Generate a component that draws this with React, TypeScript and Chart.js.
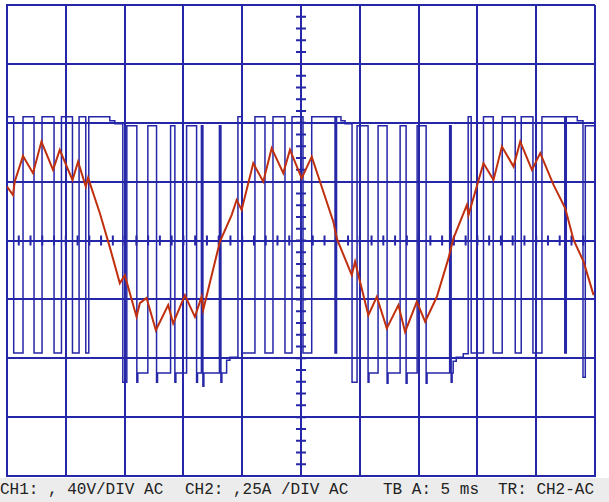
import React, { useEffect, useRef } from 'react';
import { Chart, registerables } from 'chart.js';

Chart.register(...registerables);

// CH1 voltage (V), stepped: each entry starts a level that holds until the next time
const voltTimes = [
  0.000, 0.570, 1.362, 2.298, 2.979, 4.001, 4.631, 5.567, 6.129, 6.699, 6.954, 8.742, 9.167,
  9.848, 10.189, 11.040, 11.120, 11.976, 12.717, 12.800, 13.909, 14.275, 14.360, 15.271,
  16.122, 16.200, 16.531, 16.658, 16.740, 18.063, 18.190, 18.270, 18.675, 18.956,
  19.637, 19.978, 21.084, 21.936, 22.617, 23.638, 24.234, 25.170, 25.911, 27.894, 28.022,
  28.400, 28.746, 29.341, 29.767, 30.703, 30.780, 31.554, 32.321, 32.400, 33.428, 33.938,
  34.020, 34.875, 35.641, 35.720, 37.641, 37.769, 37.850, 37.939, 38.200, 38.800,
  39.216, 39.471, 40.518, 41.344, 42.110, 43.217, 43.727, 44.723, 45.489, 47.430, 47.557,
  48.494, 48.979, 49.175, 50.000,
];
const voltValues = [
  84.0, -76.5, 84.0, -76.5, 84.0, -76.5, 84.0, -76.5, 84.0, -76.5, 84.0, 81.3, 79.3,
  -96.3, 77.9, -96.3, -90.1, 77.9, -96.3, -90.1, 77.9, -96.3, -90.1, 77.9,
  -96.3, -90.1, 77.9, -99.0, -90.1, 77.9, -96.3, -90.1, -81.3, -79.3,
  84.0, -76.5, 84.0, -76.5, 84.0, -76.5, 84.0, -76.5, 84.0, -76.5, 84.0,
  81.3, 79.3, -96.3, 77.9, -96.3, -90.1, 77.9, -97.0, -90.1, 77.9, -97.0,
  -90.1, 77.9, -97.0, -90.1, 77.9, -96.3, -90.1, -82.0, -79.3, -77.0,
  84.0, -76.5, 84.0, -76.5, 84.0, -76.5, 84.0, -76.5, 84.0, -76.5, 84.0,
  81.3, -92.9, 77.9, 77.9,
];

// CH2 current (A)
const currTimes = [
  0.000, 0.511, 0.655, 1.362, 2.213, 2.928, 3.916, 4.486, 5.567, 6.044, 6.699, 6.895,
  7.891, 8.742, 9.593, 10.019, 11.015, 11.296, 11.866, 12.657, 13.705, 14.130, 15.126,
  15.977, 16.548, 16.684, 18.105, 19.101, 19.527, 19.952, 20.940, 21.791, 22.506, 23.493,
  24.064, 25.060, 25.911, 27.749, 28.039, 29.316, 29.597, 30.729, 31.444, 32.295, 33.282,
  33.853, 34.849, 35.555, 36.551, 37.538, 37.964, 39.105, 39.241, 40.518, 41.369, 42.084,
  43.071, 43.641, 44.637, 45.343, 46.475, 47.471, 48.178, 49.029, 49.880,
];
const currValues = [
  0.229, 0.193, 0.250, 0.359, 0.286, 0.420, 0.300, 0.385, 0.257, 0.335, 0.229, 0.266,
  0.117, -0.028, -0.182, -0.147, -0.324, -0.266, -0.244, -0.381, -0.274, -0.352, -0.232,
  -0.324, -0.239, -0.295, -0.005, 0.108, 0.172, 0.130, 0.328, 0.250, 0.392, 0.286,
  0.385, 0.264, 0.356, 0.080, 0.009, -0.147, -0.090, -0.317, -0.239, -0.373, -0.274,
  -0.388, -0.260, -0.345, -0.239, -0.076, 0.009, 0.151, 0.108, 0.328, 0.257, 0.399,
  0.314, 0.420, 0.300, 0.371, 0.236, 0.137, 0.002, -0.090, -0.232,
];

const statusLabels = ['CH1: , 40V/DIV AC', 'CH2: ,25A /DIV AC', 'TB A: 5 ms', 'TR: CH2-AC'];
const statusOffsets = [0, 185, 383, 498];

const BLUE = '#2626a8';
const RED = '#c0300e';

const centerTicks = {
  id: 'centerTicks',
  beforeDatasetsDraw(chart: any) {
    const { ctx, scales } = chart;
    const xs = scales.x;
    const ys = scales.y;
    const cx = xs.getPixelForValue(25);
    const cy = ys.getPixelForValue(0);
    ctx.save();
    ctx.strokeStyle = BLUE;
    ctx.lineWidth = 2;
    ctx.beginPath();
    for (let t = 0; t <= 50; t += 1) {
      const px = xs.getPixelForValue(t);
      ctx.moveTo(px, cy - 5);
      ctx.lineTo(px, cy + 5);
    }
    for (let v = -160; v <= 160; v += 8) {
      const py = ys.getPixelForValue(v);
      ctx.moveTo(cx - 5, py);
      ctx.lineTo(cx + 5, py);
    }
    ctx.stroke();
    ctx.restore();
  },
};

export default function App() {
  const ref = useRef<HTMLCanvasElement | null>(null);

  useEffect(() => {
    if (!ref.current) return;
    const chart = new Chart(ref.current, {
      type: 'line',
      data: {
        datasets: [
          {
            label: 'CH2',
            data: currTimes.map((t, i) => ({ x: t, y: currValues[i] })),
            borderColor: RED,
            borderWidth: 2,
            pointRadius: 0,
            tension: 0,
            yAxisID: 'y2',
          },
          {
            label: 'CH1',
            data: voltTimes.map((t, i) => ({ x: t, y: voltValues[i] })),
            borderColor: BLUE,
            borderWidth: 1.5,
            pointRadius: 0,
            stepped: 'before',
            yAxisID: 'y',
          },
        ],
      },
      options: {
        responsive: false,
        animation: false,
        devicePixelRatio: 1,
        layout: { padding: { left: 7, top: 5, right: 14, bottom: 2 } },
        plugins: { legend: { display: false }, tooltip: { enabled: false } },
        scales: {
          x: {
            type: 'linear',
            min: 0,
            max: 50,
            ticks: { display: false, stepSize: 5 },
            grid: { color: BLUE, lineWidth: 2, drawTicks: false },
            border: { display: true, color: BLUE, width: 2 },
          },
          y: {
            type: 'linear',
            min: -160,
            max: 160,
            ticks: { display: false, stepSize: 40 },
            grid: { color: BLUE, lineWidth: 2, drawTicks: false },
            border: { display: true, color: BLUE, width: 2 },
          },
          y2: {
            type: 'linear',
            display: false,
            min: -1,
            max: 1,
          },
        },
      },
      plugins: [centerTicks],
    });
    return () => chart.destroy();
  }, []);

  return (
    <div style={{ position: 'fixed', left: 0, top: 0, width: 609, height: 502, background: '#ffffff', overflow: 'hidden' }}>
      <canvas ref={ref} width={609} height={478} style={{ display: 'block', width: 609, height: 478 }} />
      <div
        style={{
          position: 'absolute',
          left: 0,
          top: 478,
          width: 609,
          height: 24,
          background: '#ececec',
          fontFamily: '"Liberation Mono", "DejaVu Sans Mono", monospace',
          fontSize: 16,
          color: '#222',
          whiteSpace: 'pre',
        }}
      >
        {statusLabels.map((s, i) => (
          <span key={i} style={{ position: 'absolute', left: statusOffsets[i], top: 3 }}>{s}</span>
        ))}
      </div>
    </div>
  );
}
